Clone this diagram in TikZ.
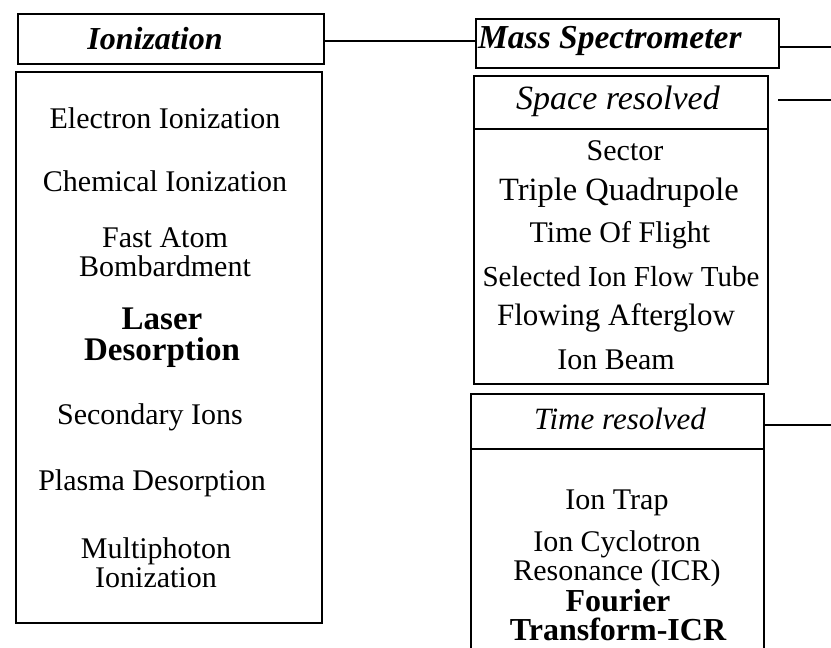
\documentclass[tikz,border=0pt]{standalone}
\usepackage{fontspec}
\setmainfont{Liberation Serif}
\begin{document}
\begin{tikzpicture}[x=1pt,y=-1pt]
\tikzset{
  box/.style={draw, line width=1.6pt, inner sep=0pt, anchor=north west, rectangle},
  link/.style={line width=1.6pt},
  txt/.style={inner sep=0pt, align=center, font=\fontsize{30}{29}\selectfont},
  btxt/.style={inner sep=0pt, align=center, font=\fontsize{33}{31}\selectfont\bfseries},
  itxt/.style={inner sep=0pt, font=\fontsize{31}{31}\selectfont\itshape},
  bitxt/.style={inner sep=0pt, font=\fontsize{32}{32}\selectfont\bfseries\itshape}
}
\clip (0,0) rectangle (831,648);
\fill[white] (0,0) rectangle (831,648);
% left column
\node[box, minimum width=306pt, minimum height=50pt] (ion) at (17,13) {};
\node[bitxt] (iont) at (155,39) {Ionization};
\node[box, minimum width=306pt, minimum height=551pt] (ionlist) at (15,71) {};
\node[txt] (l1) at (165,118) {Electron Ionization};
\node[txt] (l2) at (165,181) {Chemical Ionization};
\node[txt] (l3) at (165,252) {Fast Atom\\Bombardment};
\node[btxt] (l4) at (162,338) {Laser\\Desorption};
\node[txt] (l5) at (150,417) {Secondary Ions};
\node[txt] (l6) at (152,483) {Plasma Desorption};
\node[txt] (l7) at (156,563) {Multiphoton\\Ionization};
% right column
\node[box, minimum width=303pt, minimum height=49pt] (ms) at (475,18) {};
\node[bitxt, font=\fontsize{33.5}{33}\selectfont\bfseries\itshape, anchor=west] (mst) at (478,41) {Mass Spectrometer};
\node[box, minimum width=294pt, minimum height=53pt] (sp) at (473,75) {};
\node[itxt, font=\fontsize{34}{34}\selectfont\itshape] (spt) at (618,101) {Space resolved};
\node[box, minimum width=294pt, minimum height=255pt] (spl) at (473,128) {};
\node[txt] (s1) at (625,151) {Sector};
\node[txt, font=\fontsize{32.5}{32}\selectfont] (s2) at (619,193) {Triple Quadrupole};
\node[txt] (s3) at (620,235) {Time Of Flight};
\node[txt, font=\fontsize{29}{29}\selectfont] (s4) at (621,277) {Selected Ion Flow Tube};
\node[txt, font=\fontsize{31}{31}\selectfont] (s5) at (616,318) {Flowing Afterglow};
\node[txt] (s6) at (616,360) {Ion Beam};
\node[box, minimum width=293pt, minimum height=55pt] (tr) at (470,393) {};
\node[itxt] (trt) at (620,419) {Time resolved};
\node[box, minimum width=293pt, minimum height=230pt] (trl) at (470,448) {};
\node[txt] (r1) at (617,503) {Ion Trap};
\node[txt] (r2) at (617,559) {Ion Cyclotron\\Resonance (ICR)};
\node[btxt, font=\fontsize{32}{29}\selectfont\bfseries] (r3) at (618,615) {Fourier\\Transform-ICR};
% connectors
\coordinate (msend) at (831,47);
\coordinate (spstart) at (778,100);
\coordinate (spend) at (831,100);
\coordinate (trend) at (831,425);
\draw[link] (ion.east |- 0,41) -- (ms.west |- 0,41);
\draw[link] (ms.east |- msend) -- (msend);
\draw[link] (spstart) -- (spend);
\draw[link] (tr.east |- trend) -- (trend);
\end{tikzpicture}
\end{document}
